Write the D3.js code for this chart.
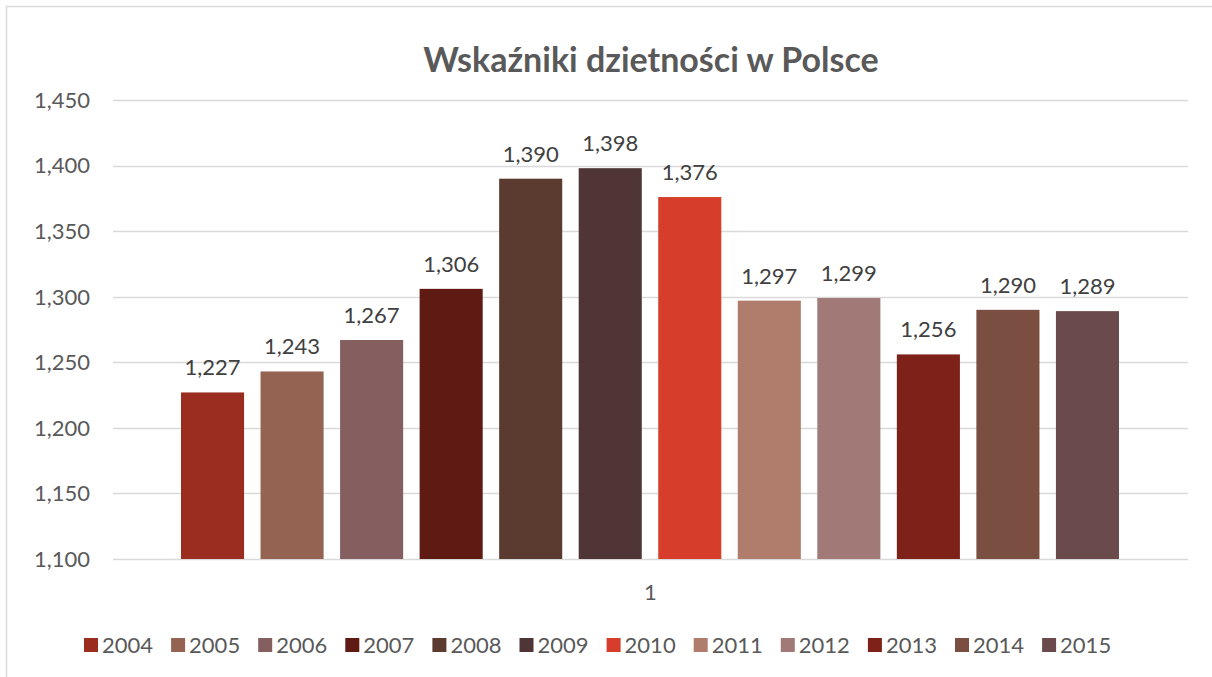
<!DOCTYPE html>
<html>
<head>
<meta charset="utf-8">
<script src="https://cdn.jsdelivr.net/npm/d3@7"></script>
<style>
  body { margin: 0; background: #fff; }
  svg { display: block; font-family: "Lato", "Noto Sans", sans-serif; }
</style>
</head>
<body>
<div id="chart"></div>
<script>
// data
var years = ["2004","2005","2006","2007","2008","2009","2010","2011","2012","2013","2014","2015"];
var values = [1.227, 1.243, 1.267, 1.306, 1.390, 1.398, 1.376, 1.297, 1.299, 1.256, 1.290, 1.289];
var colors = ["#9b2d20","#956352","#855f5f","#5e1a13","#5b3a2f","#4f3535","#d63d2b","#b07c6c","#a17a78","#7e2219","#7a4e40","#6a4a4a"];
var yTicks = [1.10, 1.15, 1.20, 1.25, 1.30, 1.35, 1.40, 1.45];
var category = "1";
var title = "Wskaźniki dzietności w Polsce";

var width = 1212, height = 677;
var plotLeft = 113, plotRight = 1188;

var svg = d3.select("#chart")
  .append("svg")
  .attr("width", width)
  .attr("height", height);

// chart border (cropped at right and bottom)
svg.append("rect")
  .attr("x", 6.5).attr("y", 6.5)
  .attr("width", 1300).attr("height", 800)
  .attr("fill", "#fff")
  .attr("stroke", "#d9d9d9")
  .attr("stroke-width", 1.5);

var pl = d3.formatLocale({decimal: ",", thousands: " ", grouping: [3], currency: ["", ""]});
var fmt = pl.format(".3f");

var y = d3.scaleLinear().domain([1.10, 1.45]).range([559, 100]);
var x = d3.scaleBand().domain(years).range([181, 1119]).paddingInner(0.207).paddingOuter(0);

// gridlines
svg.append("g").selectAll("line")
  .data(yTicks)
  .enter().append("line")
  .attr("x1", plotLeft).attr("x2", plotRight)
  .attr("y1", function(d) { return Math.round(y(d)) + 0.5; })
  .attr("y2", function(d) { return Math.round(y(d)) + 0.5; })
  .attr("stroke", "#d9d9d9")
  .attr("stroke-width", 1.5);

// y labels
svg.append("g").selectAll("text")
  .data(yTicks)
  .enter().append("text")
  .attr("x", 90)
  .attr("y", function(d) { return y(d); })
  .attr("dy", "0.36em")
  .attr("text-anchor", "end")
  .attr("fill", "#595959")
  .style("font-size", "22px")
  .text(function(d) { return fmt(d); });

// bars
svg.append("g").selectAll("rect")
  .data(values)
  .enter().append("rect")
  .attr("x", function(d, i) { return x(years[i]); })
  .attr("y", function(d) { return y(d); })
  .attr("width", x.bandwidth())
  .attr("height", function(d) { return y(1.10) - y(d); })
  .attr("fill", function(d, i) { return colors[i]; });

// data labels
svg.append("g").selectAll("text")
  .data(values)
  .enter().append("text")
  .attr("x", function(d, i) { return x(years[i]) + x.bandwidth() / 2; })
  .attr("y", function(d) { return y(d) - 17; })
  .attr("text-anchor", "middle")
  .attr("fill", "#404040")
  .style("font-size", "22px")
  .text(function(d) { return fmt(d); });

// category label
svg.append("text")
  .attr("x", (plotLeft + plotRight) / 2)
  .attr("y", 600)
  .attr("text-anchor", "middle")
  .attr("fill", "#595959")
  .style("font-size", "22px")
  .text(category);

// title
svg.append("text")
  .attr("x", 651)
  .attr("y", 72)
  .attr("text-anchor", "middle")
  .attr("fill", "#595959")
  .style("font-size", "34px")
  .style("font-weight", "bold")
  .text(title);

// legend
var legend = svg.append("g").selectAll("g")
  .data(years)
  .enter().append("g")
  .attr("transform", function(d, i) { return "translate(" + (84 + i * 87.1) + ",0)"; });

legend.append("rect")
  .attr("x", 0).attr("y", 638)
  .attr("width", 14).attr("height", 14)
  .attr("fill", function(d, i) { return colors[i]; });

legend.append("text")
  .attr("x", 18).attr("y", 653)
  .attr("fill", "#595959")
  .style("font-size", "22px")
  .text(function(d) { return d; });
</script>
</body>
</html>
